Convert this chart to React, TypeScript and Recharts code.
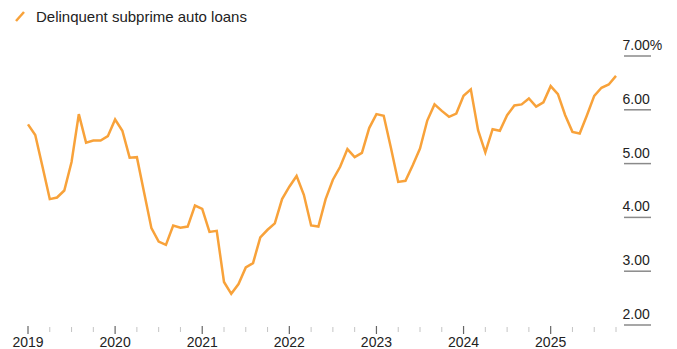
import React from "react";
import { LineChart, Line, XAxis, YAxis } from "recharts";

// Monthly values, Jan 2019 – Oct 2025 (percent)
const values: number[] = [
  5.73, 5.53, 4.94, 4.34, 4.37, 4.5, 5.03, 5.92, 5.39, 5.43, 5.43, 5.51,
  5.82, 5.61, 5.11, 5.12, 4.46, 3.8, 3.55, 3.49, 3.85, 3.81, 3.83, 4.22,
  4.16, 3.73, 3.75, 2.8, 2.58, 2.76, 3.07, 3.15, 3.63, 3.77, 3.89, 4.34,
  4.57, 4.77, 4.42, 3.85, 3.83, 4.34, 4.7, 4.94, 5.27, 5.12, 5.2, 5.66,
  5.92, 5.89, 5.29, 4.66, 4.68, 4.97, 5.28, 5.8, 6.1, 5.98, 5.87, 5.93,
  6.26, 6.38, 5.62, 5.21, 5.64, 5.61, 5.9, 6.08, 6.1, 6.21, 6.06, 6.14,
  6.44, 6.29, 5.9, 5.59, 5.56, 5.9, 6.26, 6.41, 6.47, 6.63,
];

const years: string[] = ["2019", "2020", "2021", "2022", "2023", "2024", "2025"];
const yTicks: number[] = [2, 3, 4, 5, 6, 7];
const yTickLabels: string[] = ["2.00", "3.00", "4.00", "5.00", "6.00", "7.00%"];
const seriesName = "Delinquent subprime auto loans";

const monthLabels: string[] = values.map((_, i) => {
  const y = 2019 + Math.floor(i / 12);
  const m = (i % 12) + 1;
  return `${y}-${m < 10 ? "0" + m : m}`;
});

const data = values.map((v, i) => ({ idx: i, month: monthLabels[i], value: v }));
const xTicks: number[] = values.map((_, i) => i).filter((i) => i % 3 === 0);

const FONT = "'Liberation Sans', Arial, Helvetica, sans-serif";
const ORANGE = "#F8A23A";

const XTick = (props: any) => {
  const { x, y, payload } = props;
  const v = payload.value as number;
  const major = v % 12 === 0;
  const label = major ? years[v / 12] : null;
  return (
    <g>
      {major ? (
        <line x1={x} x2={x} y1={y + 1} y2={y + 9} stroke="#666" strokeWidth={1.2} />
      ) : (
        <line x1={x} x2={x} y1={y + 2} y2={y + 7} stroke="#c4c4c4" strokeWidth={1} />
      )}
      {label && (
        <text x={x} y={y + 22} textAnchor="middle" fontSize={14} fill="#222" fontFamily={FONT}>
          {label}
        </text>
      )}
    </g>
  );
};

const YTick = (props: any) => {
  const { x, y, payload } = props;
  const i = yTicks.indexOf(payload.value);
  return (
    <g>
      <text x={x + 6.5} y={y - 6} textAnchor="start" fontSize={14} fill="#222" fontFamily={FONT}>
        {yTickLabels[i]}
      </text>
      <line x1={x + 8} x2={x + 35} y1={y} y2={y} stroke="#8a8a8a" strokeWidth={1.5} />
    </g>
  );
};

export default function App() {
  return (
    <div style={{ position: "relative", width: 677, height: 349, background: "#fff" }}>
      <style>{`body{margin:0;}`}</style>
      <svg width={677} height={30} style={{ position: "absolute", left: 0, top: 0 }}>
        <line x1={16} y1={21} x2={24} y2={12} stroke={ORANGE} strokeWidth={2.5} />
        <text x={36} y={22} fontSize={15} fill="#222" fontFamily={FONT}>
          {seriesName}
        </text>
      </svg>
      <div style={{ position: "absolute", left: 0, top: 0 }}>
        <LineChart
          width={677}
          height={349}
          data={data}
          margin={{ top: 56, right: 0, bottom: 0, left: 28 }}
        >
          <XAxis
            dataKey="idx"
            type="number"
            domain={[0, 81]}
            ticks={xTicks}
            interval={0}
            height={24}
            axisLine={false}
            tickLine={false}
            tickSize={0}
            tickMargin={0}
            tick={<XTick />}
          />
          <YAxis
            orientation="right"
            domain={[2, 7]}
            ticks={yTicks}
            width={61}
            axisLine={false}
            tickLine={false}
            tickSize={0}
            tickMargin={0}
            interval={0}
            tick={<YTick />}
          />
          <Line
            type="linear"
            dataKey="value"
            name={seriesName}
            stroke={ORANGE}
            strokeWidth={2.5}
            dot={false}
            isAnimationActive={false}
          />
        </LineChart>
      </div>
    </div>
  );
}
